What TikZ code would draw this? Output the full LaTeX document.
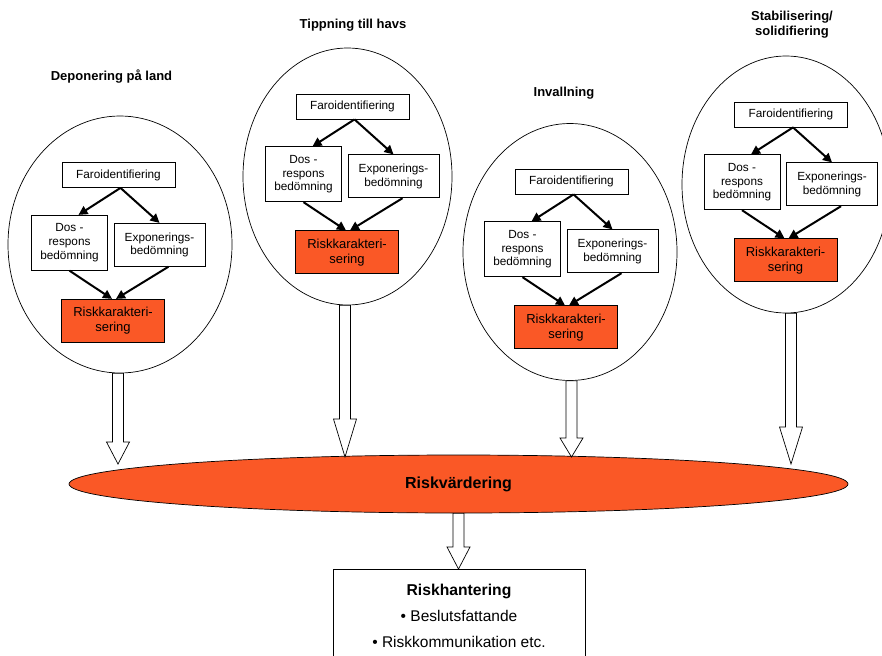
\documentclass[tikz,border=0pt]{standalone}
\usepackage{fontspec}
\setmainfont{Liberation Sans}
\usetikzlibrary{arrows.meta,positioning,shapes.geometric,calc}
\definecolor{riskred}{RGB}{250,88,38}

\begin{document}
\begin{tikzpicture}[
  x=1pt, y=-1pt,
  method/.style={draw, ellipse, line width=0.7pt, inner sep=0pt, minimum height=257pt},
  heading/.style={font=\bfseries\fontsize{13}{15}\selectfont, align=center},
  box/.style={draw, fill=white, align=center, line width=0.8pt, inner sep=1pt, font=\fontsize{11.8}{13.7}\selectfont},
  riskbox/.style={box, fill=riskred, minimum width=103pt, minimum height=43pt, font=\fontsize{13}{15}\selectfont},
  arrow/.style={-{Triangle[length=9pt,width=9pt]}, line width=2pt},
  blockarrow/.style={draw, fill=white, line width=0.7pt, to path={
    let \p1=(\tikztostart), \p2=(\tikztotarget) in
    (\x1-5.5pt,\y1) -- (\x1-5.5pt,\y2+#1pt) -- (\x1-11.5pt,\y2+#1pt) -- (\x1,\y2)
    -- (\x1+11.5pt,\y2+#1pt) -- (\x1+5.5pt,\y2+#1pt) -- (\x1+5.5pt,\y1) -- cycle}},
  blockarrow/.default=22
]
\useasboundingbox (0,0) rectangle (882,655);
\clip (0,0) rectangle (882,655);

% method titles
\node[heading] (t1) at (111.5,77) {Deponering på land};
\node[heading] (t2) at (353,25) {Tippning till havs};
\node[heading] (t3) at (564,93) {Invallning};
\node[heading] (t4) at (792,25) {Stabilisering/\\solidifiering};

% one ellipse per method
\foreach \n/\gx/\gy/\cx/\cy/\ew in {1/118.5/175/120/244.5/224, 2/352.5/106.5/347.5/176.5/209,
    3/571.5/181.5/570/252/214, 4/791/114.5/786/184.5/208} {
  \node[method, minimum width=\ew pt] (e\n) at (\cx,\cy) {};
  \node[box, minimum width=113pt, minimum height=25pt] (f\n) at (\gx,\gy) {Faroidentifiering};
  \node[box, minimum width=76pt, minimum height=55pt, below=27pt of f\n, xshift=-49pt] (d\n) {Dos -\\respons\\bedömning};
  \node[box, minimum width=91pt, minimum height=43pt, below=35pt of f\n, xshift=41pt] (x\n) {Exponerings-\\bedömning};
  \node[riskbox, below=111pt of f\n, xshift=-5.5pt] (r\n) {Riskkarakteri-\\sering};
  \draw[arrow] ([xshift=2pt]f\n.south) -- ([xshift=9pt]d\n.north);
  \draw[arrow] ([xshift=2pt]f\n.south) -- (x\n.north);
  \draw[arrow] (d\n.south) -- ([xshift=-1pt]r\n.north);
  \draw[arrow] ([xshift=9pt]x\n.south) -- ([xshift=3pt]r\n.north);
}

\node[draw, ellipse, fill=riskred, line width=0.7pt, minimum width=779pt, minimum height=58pt, inner sep=0pt,
  font=\bfseries\fontsize{16}{19}\selectfont] (rv) at (458.5,484) {\raisebox{-3pt}{Riskvärdering}};
\node[draw, line width=0.8pt, anchor=north, minimum width=252pt, minimum height=92pt, align=center,
  font=\fontsize{15.5}{26}\selectfont] (rh) at (459,569)
  {{\bfseries\fontsize{15.7}{26}\selectfont Riskhantering}\\• Beslutsfattande\\• Riskkommunikation etc.};

% hollow arrows
\coordinate (tip1) at (0,464);
\coordinate (tip2) at (0,457);
\coordinate (tip3) at (0,457);
\coordinate (tip4) at (0,464);
\draw[blockarrow] ([xshift=-2pt]e1.south) to (tip1);
\draw[blockarrow=38] ([xshift=-2.5pt]e2.south) to (tip2);
\draw[blockarrow=19] ([xshift=1.5pt]e3.south) to (tip3);
\draw[blockarrow=37] ([xshift=5pt]e4.south) to (tip4);
\draw[blockarrow] (rv.south) to (rh.north);
\end{tikzpicture}
\end{document}
